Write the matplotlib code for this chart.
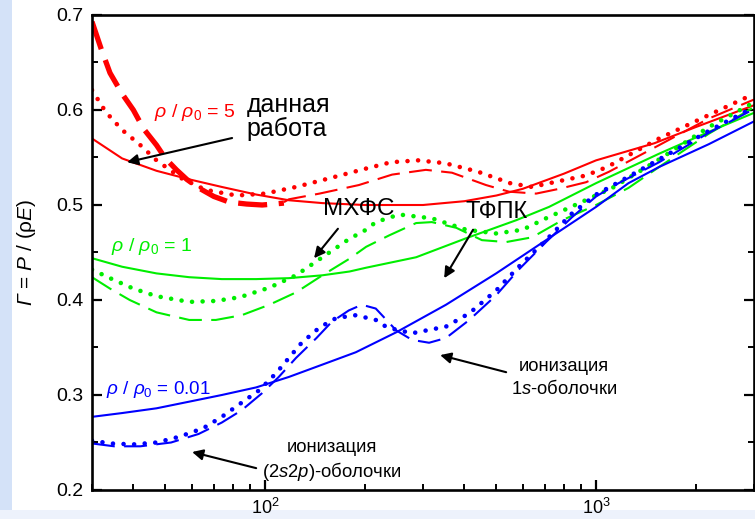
import numpy as np
import matplotlib
matplotlib.use('Agg')
import matplotlib.pyplot as plt
from matplotlib.patches import Rectangle
from matplotlib.ticker import MultipleLocator, FormatStrFormatter, NullFormatter

plt.rcParams['font.family'] = ['Liberation Sans', 'DejaVu Sans']
plt.rcParams['mathtext.fontset'] = 'custom'
plt.rcParams['mathtext.rm'] = 'Liberation Sans'
plt.rcParams['mathtext.it'] = 'Liberation Sans:italic'
plt.rcParams['mathtext.sf'] = 'Liberation Sans:italic'  # used for the italic capital Gamma
plt.rcParams['mathtext.bf'] = 'Liberation Sans:bold'
# ticks set up front, inward, on left/right/bottom
plt.rcParams.update({
    'xtick.direction': 'in', 'ytick.direction': 'in',
    'xtick.major.size': 7.5, 'ytick.major.size': 7.5,
    'xtick.minor.size': 4.5, 'ytick.minor.size': 4.5,
    'xtick.major.width': 1.6, 'ytick.major.width': 1.6,
    'xtick.minor.width': 1.4, 'ytick.minor.width': 1.4,
    'xtick.major.pad': 6, 'ytick.major.pad': 6,
    'xtick.labelsize': 13, 'ytick.labelsize': 14,
    'ytick.right': True, 'xtick.top': False,
    'axes.linewidth': 1.9,
})

# rho/rho0 = 5 (red)
e_red_solid = [30, 37, 47, 59, 74, 94, 118, 149, 200, 300, 400, 500, 600, 800, 1000, 1500, 2000, 3000]
g_red_solid = [0.570, 0.549, 0.536, 0.527, 0.519, 0.511, 0.505, 0.502, 0.500, 0.500, 0.504, 0.510, 0.517, 0.533, 0.547, 0.565, 0.582, 0.605]
e_red_thick = [30, 32, 34, 37, 40, 43, 47, 50, 54, 58, 63, 70, 78, 88, 98, 106, 114]
g_red_thick = [0.693, 0.664, 0.639, 0.617, 0.600, 0.580, 0.563, 0.549, 0.537, 0.527, 0.518, 0.509, 0.503, 0.501, 0.500, 0.501, 0.502]
e_red_dash = [114, 118, 146, 192, 242, 306, 367, 465, 546, 659, 773, 933, 1094, 1550, 2190, 3000]
g_red_dash = [0.503, 0.506, 0.512, 0.521, 0.532, 0.537, 0.534, 0.521, 0.514, 0.512, 0.517, 0.524, 0.535, 0.563, 0.591, 0.611]
e_red_dot = [30, 33, 37, 42, 47, 56, 66, 82, 100, 124, 156, 200, 240, 290, 350, 440, 550, 640, 770, 930, 1080, 1550, 2200, 3000]
g_red_dot = [0.621, 0.598, 0.579, 0.563, 0.547, 0.528, 0.516, 0.510, 0.512, 0.519, 0.528, 0.538, 0.545, 0.547, 0.544, 0.535, 0.523, 0.519, 0.525, 0.531, 0.540, 0.570, 0.595, 0.617]

# rho/rho0 = 1 (green)
e_grn_solid = [30, 37, 47, 59, 74, 94, 118, 149, 180, 202, 286, 405, 574, 721, 1000, 1550, 2190, 3000]
g_grn_solid = [0.444, 0.435, 0.428, 0.424, 0.422, 0.422, 0.423, 0.426, 0.430, 0.434, 0.445, 0.465, 0.484, 0.498, 0.523, 0.554, 0.577, 0.597]
e_grn_dot = [30, 34, 40, 47, 59, 71, 84, 103, 124, 149, 179, 202, 216, 254, 319, 405, 500, 600, 706, 890, 1120, 1550, 2190, 3000]
g_grn_dot = [0.432, 0.423, 0.412, 0.404, 0.398, 0.399, 0.403, 0.413, 0.426, 0.445, 0.464, 0.474, 0.482, 0.490, 0.486, 0.474, 0.470, 0.474, 0.486, 0.502, 0.518, 0.548, 0.582, 0.608]
e_grn_dash = [30, 34, 39, 47, 59, 71, 85, 103, 124, 149, 179, 202, 237, 286, 319, 378, 452, 535, 641, 790, 1000, 1253, 1550, 2190, 3000]
g_grn_dash = [0.424, 0.412, 0.400, 0.387, 0.379, 0.379, 0.384, 0.395, 0.408, 0.426, 0.443, 0.456, 0.468, 0.481, 0.482, 0.476, 0.463, 0.461, 0.466, 0.484, 0.500, 0.518, 0.540, 0.575, 0.603]

# rho/rho0 = 0.01 (blue)
e_blu_solid = [30, 37, 47, 59, 74, 94, 118, 149, 188, 249, 352, 499, 706, 1000, 1253, 1550, 2190, 3000]
g_blu_solid = [0.277, 0.281, 0.286, 0.293, 0.300, 0.308, 0.319, 0.332, 0.345, 0.366, 0.395, 0.428, 0.463, 0.498, 0.523, 0.540, 0.564, 0.588]
e_blu_dot = [30, 34, 40, 47, 55, 65, 74, 85, 96, 108, 118, 129, 146, 164, 188, 216, 234, 278, 352, 414, 499, 584, 706, 845, 1000, 1170, 1550, 2190, 3000]
g_blu_dot = [0.252, 0.249, 0.248, 0.250, 0.256, 0.265, 0.277, 0.292, 0.305, 0.323, 0.339, 0.355, 0.371, 0.381, 0.384, 0.379, 0.371, 0.365, 0.372, 0.386, 0.410, 0.435, 0.463, 0.491, 0.511, 0.524, 0.548, 0.578, 0.603]
e_blu_dash = [30, 35, 42, 52, 63, 74, 85, 98, 110, 124, 143, 159, 179, 196, 216, 237, 249, 278, 313, 352, 414, 499, 584, 706, 845, 1000, 1170, 1550, 2190, 3000]
g_blu_dash = [0.249, 0.246, 0.246, 0.250, 0.259, 0.271, 0.284, 0.302, 0.319, 0.339, 0.360, 0.377, 0.389, 0.395, 0.391, 0.376, 0.368, 0.358, 0.355, 0.360, 0.379, 0.405, 0.432, 0.461, 0.487, 0.509, 0.523, 0.545, 0.576, 0.601]

RED, GRN, BLU = '#ff0000', '#00ee00', '#0000ff'

fig = plt.figure(figsize=(7.55, 5.19), dpi=100)

# pale blue edges of the slide
fig.add_artist(Rectangle((0, 0), 12 / 755, 1, transform=fig.transFigure,
                         facecolor='#d4e2f8', edgecolor='none', zorder=-5))
fig.add_artist(Rectangle((0, 0), 1, 9 / 519, transform=fig.transFigure,
                         facecolor='#edf2fc', edgecolor='none', zorder=-5))

ax = fig.add_axes([92 / 755, 29 / 519, 662 / 755, 475 / 519])

dot = dict(linestyle=(0, (0.01, 2.3)), dash_capstyle='round', lw=3.3)
dsh = dict(linestyle=(0, (11, 4.5)), lw=1.5)

ax.plot(e_red_solid, g_red_solid, color=RED, lw=1.5)
ax.plot(e_red_thick, g_red_thick, color=RED, lw=3.8, linestyle=(0, (5.5, 2.2)))
ax.plot(e_red_dash, g_red_dash, color=RED, **dsh)
ax.plot(e_red_dot, g_red_dot, color=RED, **dot)

ax.plot(e_grn_solid, g_grn_solid, color=GRN, lw=1.5)
ax.plot(e_grn_dash, g_grn_dash, color=GRN, **dsh)
ax.plot(e_grn_dot, g_grn_dot, color=GRN, **dot)

ax.plot(e_blu_solid, g_blu_solid, color=BLU, lw=1.5)
ax.plot(e_blu_dash, g_blu_dash, color=BLU, **dsh)
ax.plot(e_blu_dot, g_blu_dot, color=BLU, **dot)

ax.set_xscale('log')
ax.set_xlim(30, 3000)
ax.set_ylim(0.2, 0.7)
ax.xaxis.set_minor_formatter(NullFormatter())
ax.yaxis.set_major_locator(MultipleLocator(0.1))
ax.yaxis.set_minor_locator(MultipleLocator(0.05))
ax.yaxis.set_major_formatter(FormatStrFormatter('%.1f'))
ax.tick_params(which='both', direction='in', right=True, top=False, color='black')

ax.set_ylabel(r'$\mathsf{Γ}$ = $\mathit{P}$ / (ρ$\mathit{E}$)', fontsize=15)
ax.yaxis.set_label_coords(-0.081, 0.5)

# curve labels
ax.text(46.2, 0.597, r'$ρ$ / $ρ_0$ = 5', color=RED, fontsize=14, va='center')
ax.text(34.3, 0.456, r'$ρ$ / $ρ_0$ = 1', color=GRN, fontsize=14, va='center')
ax.text(33.1, 0.306, r'$ρ$ / $ρ_0$ = 0.01', color=BLU, fontsize=13.6, va='center')

ax.text(88, 0.593, 'данная\nработа', fontsize=18, va='center', ha='left', linespacing=1.0)
ax.text(192, 0.496, 'МХФС', fontsize=17.5, va='center', ha='center')
ax.text(502, 0.493, 'ТФПК', fontsize=17, va='center', ha='center')
ax.text(800, 0.318, 'ионизация\n' + r'$\mathit{1s}$-оболочки', fontsize=13.2, va='center', ha='center', linespacing=1.25)
ax.text(159, 0.2305, 'ионизация\n' + r'$\mathit{(2s2p)}$-оболочки', fontsize=13.3, va='center', ha='center', linespacing=1.25)

arr = dict(arrowstyle='-|>', color='black', lw=1.5, mutation_scale=16, shrinkA=0, shrinkB=0)
ax.annotate('', xy=(38.3, 0.545), xytext=(79.5, 0.5705), arrowprops=arr)
ax.annotate('', xy=(140.6, 0.444), xytext=(166, 0.475), arrowprops=arr)
ax.annotate('', xy=(347.6, 0.423), xytext=(425, 0.474), arrowprops=arr)
ax.annotate('', xy=(338, 0.342), xytext=(535, 0.324), arrowprops=arr)
ax.annotate('', xy=(60.2, 0.240), xytext=(94, 0.223), arrowprops=arr)

fig.savefig('out.png', dpi=100)
